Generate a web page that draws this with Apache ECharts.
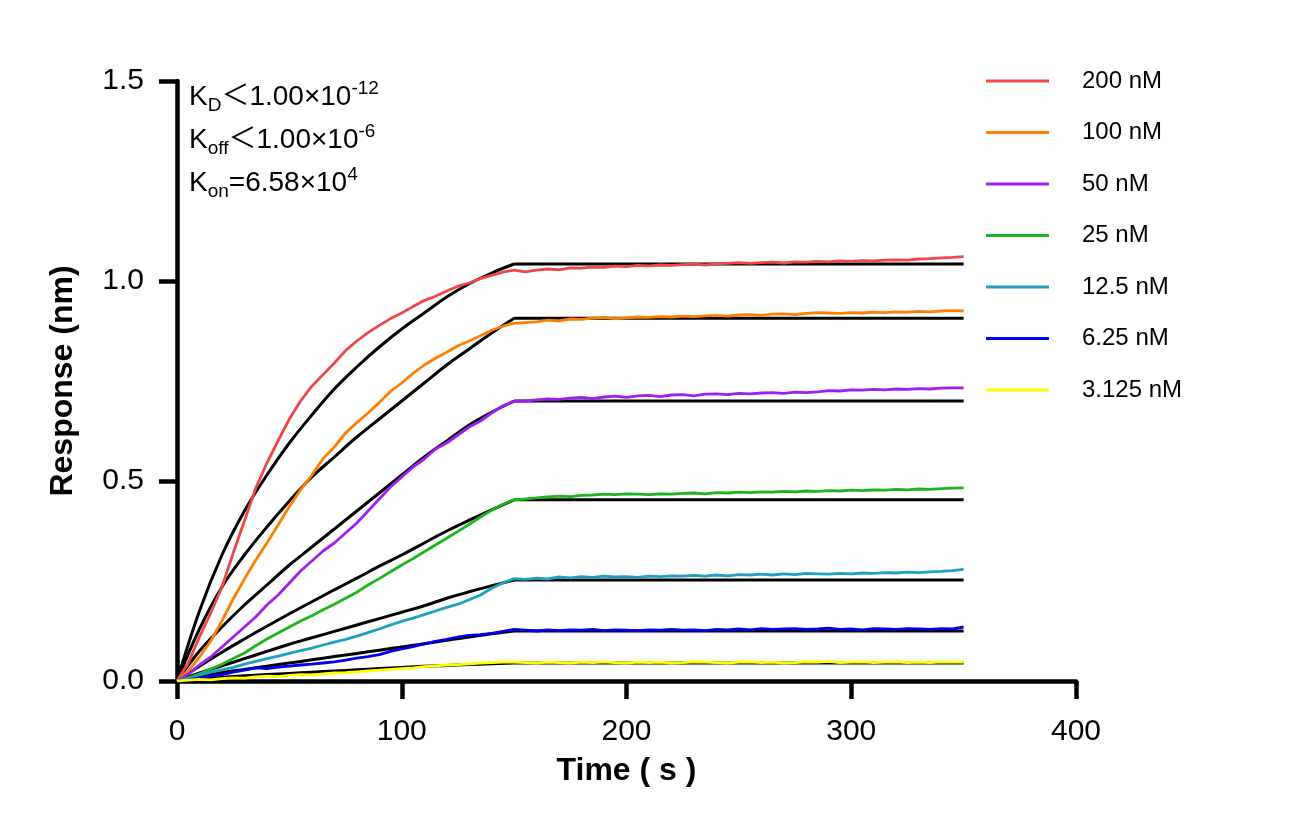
<!DOCTYPE html>
<html>
<head>
<meta charset="utf-8">
<title>Kinetics</title>
<script src="https://cdn.jsdelivr.net/npm/echarts@6.0.0/dist/echarts.min.js"></script>
<style>
  html, body { margin: 0; padding: 0; background: #fff; }
  #main { width: 1291px; height: 834px; }
</style>
</head>
<body>
<div id="main"></div>
<script>
// 时间轴 (s)：测量数据每 5 s 一个点，拟合曲线每 10 s 一个点
var timeData = [];
for (var t = 0; t <= 350; t += 5) timeData.push(t);
var fitTime = [0, 10, 20, 30, 40, 50, 60, 70, 80, 90, 100, 110, 120, 130, 140, 150];
var dissocEnd = 350;

var concNames = ['200 nM', '100 nM', '50 nM', '25 nM', '12.5 nM', '6.25 nM', '3.125 nM'];
var concColors = ['#f04646', '#ff8000', '#a21ef0', '#1eb41e', '#1ea0be', '#0000ee', '#ffff00'];

// 测量响应 (nm)
var resp200 = [0, 0.045, 0.11, 0.17, 0.235, 0.32, 0.40, 0.482, 0.545, 0.601, 0.655, 0.70, 0.737, 0.766, 0.795, 0.826, 0.85, 0.871, 0.889, 0.906, 0.92, 0.936, 0.951, 0.962, 0.975, 0.987, 0.995, 1.006, 1.014, 1.022, 1.027,
  1.023, 1.027, 1.030, 1.028, 1.033, 1.032, 1.035, 1.034, 1.037, 1.036, 1.039, 1.038, 1.040, 1.039, 1.041, 1.042, 1.040, 1.043, 1.044, 1.046,
  1.044, 1.046, 1.047, 1.045, 1.048, 1.047, 1.049, 1.048, 1.050, 1.049, 1.051, 1.050, 1.052, 1.053, 1.052, 1.055, 1.056, 1.058, 1.059, 1.061];
var resp100 = [0, 0.025, 0.06, 0.10, 0.15, 0.205, 0.255, 0.302, 0.345, 0.39, 0.436, 0.478, 0.515, 0.556, 0.585, 0.62, 0.646, 0.67, 0.696, 0.724, 0.745, 0.769, 0.79, 0.807, 0.822, 0.838, 0.85, 0.863, 0.877, 0.887, 0.894,
  0.896, 0.898, 0.902, 0.900, 0.905, 0.904, 0.907, 0.909, 0.906, 0.908, 0.910, 0.909, 0.911, 0.910, 0.912, 0.911, 0.913, 0.914, 0.912, 0.915,
  0.916, 0.914, 0.917, 0.918, 0.916, 0.919, 0.921, 0.920, 0.919, 0.921, 0.920, 0.922, 0.921, 0.923, 0.922, 0.924, 0.923, 0.925, 0.926, 0.925];
var resp50 = [0, 0.018, 0.04, 0.06, 0.085, 0.11, 0.135, 0.16, 0.19, 0.215, 0.245, 0.275, 0.30, 0.325, 0.345, 0.37, 0.395, 0.425, 0.455, 0.485, 0.51, 0.535, 0.555, 0.58, 0.595, 0.615, 0.635, 0.65, 0.67, 0.688, 0.699,
  0.700, 0.703, 0.705, 0.704, 0.707, 0.709, 0.706, 0.710, 0.712, 0.709, 0.713, 0.714, 0.711, 0.715, 0.716, 0.713, 0.717, 0.718, 0.716, 0.719,
  0.718, 0.720, 0.721, 0.719, 0.722, 0.721, 0.723, 0.726, 0.725, 0.728, 0.727, 0.729, 0.728, 0.730, 0.729, 0.731, 0.730, 0.732, 0.733, 0.733];
var resp25 = [0, 0.008, 0.018, 0.03, 0.042, 0.056, 0.07, 0.088, 0.105, 0.12, 0.135, 0.15, 0.163, 0.178, 0.192, 0.207, 0.222, 0.24, 0.256, 0.273, 0.29, 0.306, 0.323, 0.34, 0.357, 0.374, 0.392, 0.41, 0.427, 0.442, 0.453,
  0.455, 0.458, 0.460, 0.462, 0.461, 0.464, 0.465, 0.467, 0.466, 0.468, 0.467, 0.466, 0.468, 0.467, 0.469, 0.470, 0.468, 0.471, 0.470, 0.472,
  0.471, 0.473, 0.472, 0.474, 0.473, 0.475, 0.474, 0.476, 0.475, 0.477, 0.476, 0.478, 0.477, 0.479, 0.478, 0.480, 0.479, 0.481, 0.482, 0.483];
var resp12 = [0, 0.006, 0.015, 0.022, 0.028, 0.034, 0.042, 0.049, 0.056, 0.062, 0.069, 0.076, 0.082, 0.09, 0.097, 0.104, 0.112, 0.121, 0.13, 0.14, 0.149, 0.157, 0.166, 0.175, 0.184, 0.192, 0.203, 0.215, 0.232, 0.245, 0.256,
  0.254, 0.257, 0.255, 0.260, 0.258, 0.261, 0.259, 0.262, 0.260, 0.261, 0.259, 0.262, 0.261, 0.263, 0.262, 0.264, 0.262, 0.265, 0.263, 0.266,
  0.265, 0.267, 0.265, 0.268, 0.266, 0.269, 0.268, 0.267, 0.269, 0.268, 0.270, 0.269, 0.271, 0.270, 0.272, 0.271, 0.273, 0.274, 0.276, 0.279];
var resp6 = [0, 0.003, 0.008, 0.012, 0.016, 0.022, 0.027, 0.033, 0.031, 0.035, 0.037, 0.04, 0.042, 0.045, 0.048, 0.052, 0.057, 0.061, 0.066, 0.074, 0.08, 0.086, 0.093, 0.099, 0.104, 0.11, 0.114, 0.116, 0.119, 0.124, 0.129,
  0.127, 0.125, 0.128, 0.126, 0.128, 0.127, 0.129, 0.126, 0.128, 0.127, 0.126, 0.128, 0.127, 0.129, 0.127, 0.128, 0.126, 0.129, 0.128, 0.130,
  0.128, 0.131, 0.129, 0.130, 0.131, 0.129, 0.130, 0.132, 0.129, 0.130, 0.128, 0.131, 0.130, 0.129, 0.131, 0.130, 0.129, 0.131, 0.130, 0.135];
var resp3 = [0, 0.002, 0.004, 0.003, 0.006, 0.008, 0.007, 0.01, 0.012, 0.011, 0.014, 0.016, 0.015, 0.018, 0.02, 0.021, 0.023, 0.025, 0.027, 0.029, 0.031, 0.033, 0.036, 0.038, 0.04, 0.041, 0.043, 0.045, 0.046, 0.047, 0.047,
  0.046, 0.045, 0.047, 0.046, 0.045, 0.047, 0.046, 0.048, 0.046, 0.045, 0.047, 0.046, 0.047, 0.045, 0.046, 0.048, 0.047, 0.046, 0.045, 0.047,
  0.048, 0.046, 0.047, 0.045, 0.046, 0.048, 0.047, 0.049, 0.046, 0.047, 0.048, 0.046, 0.047, 0.048, 0.046, 0.047, 0.046, 0.048, 0.047, 0.047];

// 拟合曲线 (结合相，0-150 s)
var fit200 = [0, 0.175, 0.315, 0.425, 0.515, 0.595, 0.665, 0.73, 0.785, 0.835, 0.88, 0.92, 0.96, 0.993, 1.02, 1.0425];
var fit100 = [0, 0.13, 0.235, 0.315, 0.385, 0.45, 0.51, 0.56, 0.61, 0.655, 0.70, 0.745, 0.79, 0.83, 0.87, 0.907];
var fit50 = [0, 0.075, 0.135, 0.19, 0.24, 0.29, 0.335, 0.38, 0.425, 0.47, 0.515, 0.56, 0.60, 0.64, 0.672, 0.70];
var fit25 = [0, 0.037, 0.072, 0.105, 0.137, 0.168, 0.198, 0.228, 0.257, 0.287, 0.315, 0.345, 0.375, 0.402, 0.428, 0.453];
var fit12 = [0, 0.02, 0.038, 0.056, 0.074, 0.092, 0.108, 0.124, 0.14, 0.156, 0.172, 0.188, 0.207, 0.223, 0.238, 0.2525];
var fit6 = [0, 0.012, 0.021, 0.029, 0.037, 0.045, 0.053, 0.061, 0.069, 0.077, 0.085, 0.093, 0.102, 0.11, 0.118, 0.125];
var fit3 = [0, 0.005, 0.009, 0.013, 0.016, 0.019, 0.022, 0.025, 0.028, 0.031, 0.034, 0.037, 0.039, 0.041, 0.043, 0.045];

var yTicks = [0, 0.5, 1.0, 1.5];
var xTicks = [0, 100, 200, 300, 400];

var respList = [resp200, resp100, resp50, resp25, resp12, resp6, resp3];
var fitList = [fit200, fit100, fit50, fit25, fit12, fit6, fit3];

var FONT = 'Arial, "Liberation Sans", "Noto Sans CJK SC", sans-serif';

function pairs(xs, ys) {
  var out = [];
  for (var i = 0; i < ys.length; i++) out.push([xs[i], ys[i]]);
  return out;
}

var series = [];
// 先画拟合线（黑色），再画测量线
for (var i = 0; i < fitList.length; i++) {
  var f = fitList[i];
  series.push({
    name: 'fit' + i, type: 'line', data: pairs(fitTime, f),
    smooth: 0.4, showSymbol: false, silent: true, z: 2,
    lineStyle: { color: '#000', width: 3 }
  });
  series.push({
    name: 'fitd' + i, type: 'line',
    data: [[fitTime[fitTime.length - 1], f[f.length - 1]], [dissocEnd, f[f.length - 1]]],
    showSymbol: false, silent: true, z: 2,
    lineStyle: { color: '#000', width: 3 }
  });
}
for (var j = 0; j < respList.length; j++) {
  series.push({
    name: concNames[j], type: 'line', data: pairs(timeData, respList[j]),
    showSymbol: false, z: 3, color: concColors[j],
    lineStyle: { color: concColors[j], width: 2.8 }
  });
}

function kLine(top, sub, rest, sup) {
  return {
    type: 'text', left: 189, top: top,
    style: {
      text: '{a|K}{b|' + sub + '}{a|' + rest + '}' + (sup ? '{c|' + sup + '}' : ''),
      rich: {
        a: { fontSize: 28, fontFamily: FONT, fill: '#000', lineHeight: 36 },
        b: { fontSize: 19, fontFamily: FONT, fill: '#000', lineHeight: 23, verticalAlign: 'bottom' },
        c: { fontSize: 19, fontFamily: FONT, fill: '#000', lineHeight: 26, verticalAlign: 'top' }
      }
    }
  };
}

var option = {
  backgroundColor: '#fff',
  animation: false,
  grid: { left: 177, right: 215, top: 81, bottom: 153 },
  legend: {
    orient: 'vertical', left: 981, top: 64,
    data: concNames, icon: 'rect', itemWidth: 63, itemHeight: 3, itemGap: 27.5,
    textStyle: { fontSize: 24, fontFamily: FONT, color: '#000', lineHeight: 24, padding: [0, 0, 0, 28] }
  },
  xAxis: {
    type: 'value', min: xTicks[0], max: xTicks[xTicks.length - 1], interval: 100,
    name: 'Time ( s )', nameLocation: 'middle', nameGap: 74,
    nameTextStyle: { fontSize: 32, fontWeight: 'bold', fontFamily: FONT, color: '#000' },
    axisLine: { lineStyle: { color: '#000', width: 4.5 } },
    axisTick: { length: 18, lineStyle: { color: '#000', width: 4.5 } },
    axisLabel: { fontSize: 30, fontFamily: FONT, color: '#000', margin: 36 },
    splitLine: { show: false }
  },
  yAxis: {
    type: 'value', min: yTicks[0], max: yTicks[yTicks.length - 1], interval: 0.5,
    name: 'Response (nm)', nameLocation: 'middle', nameGap: 98,
    nameTextStyle: { fontSize: 32, fontWeight: 'bold', fontFamily: FONT, color: '#000' },
    axisLine: { show: true, lineStyle: { color: '#000', width: 4.5 } },
    axisTick: { show: true, length: 18, lineStyle: { color: '#000', width: 4.5 } },
    axisLabel: { fontSize: 30, fontFamily: FONT, color: '#000', margin: 33,
      formatter: function (v) { return v.toFixed(1); } },
    splitLine: { show: false }
  },
  graphic: [
    kLine(79, 'D', '＜1.00×10', '-12'),
    kLine(122, 'off', '＜1.00×10', '-6'),
    kLine(165, 'on', '=6.58×10', '4')
  ],
  series: series
};

var myChart = echarts.init(document.getElementById('main'));
myChart.setOption(option);
</script>
</body>
</html>
